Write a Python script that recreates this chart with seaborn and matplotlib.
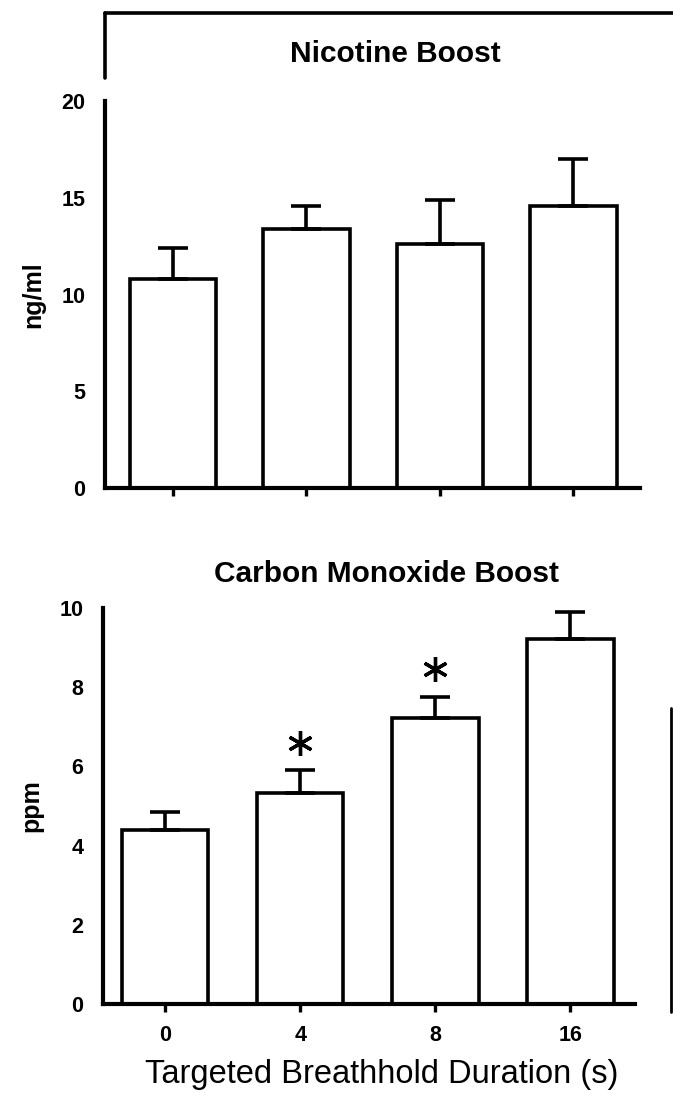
import matplotlib
matplotlib.use("Agg")
import matplotlib.pyplot as plt
import seaborn as sns
import pandas as pd
import numpy as np
from matplotlib.lines import Line2D

# ---- data ----
durations = ["0", "4", "8", "16"]
nicotine_mean = [10.8, 13.4, 12.6, 14.6]
nicotine_sem = [1.6, 1.2, 2.3, 2.4]
co_mean = [4.39, 5.33, 7.22, 9.22]
co_sem = [0.45, 0.57, 0.53, 0.68]
co_significant = [False, True, True, False]

sns.set_theme(style="white")
plt.rcParams['font.family'] = ['Liberation Sans', 'DejaVu Sans']
plt.rcParams['text.color'] = 'black'
plt.rcParams['axes.labelcolor'] = 'black'
plt.rcParams['xtick.color'] = 'black'
plt.rcParams['ytick.color'] = 'black'

fig = plt.figure(figsize=(6.73, 10.95), dpi=100)
ax1 = fig.add_axes([0.156, 0.5543, 0.795, 0.3534])
ax2 = fig.add_axes([0.153, 0.0831, 0.791, 0.3616])

LW = 2.6


def draw(ax, means, sems, ymax, step, ylabel, xlim, width, show_xlabels):
    df = pd.DataFrame({"dur": durations, "val": means})
    sns.barplot(data=df, x="dur", y="val", order=durations, color="white",
                edgecolor="black", linewidth=LW, width=width, errorbar=None,
                ax=ax, zorder=2)
    for p in ax.patches:
        p.set_facecolor("white")
    x = np.arange(len(durations))
    ax.errorbar(x, means, yerr=[np.zeros(len(means)), sems], fmt="none",
                ecolor="black", elinewidth=LW, capsize=11, capthick=LW, zorder=3)
    ax.set_ylim(0, ymax)
    ax.set_xlim(*xlim)
    ticks = np.arange(0, ymax + 0.01, step)
    ax.set_yticks(ticks)
    ax.set_yticklabels([f"{int(v)}" for v in ticks],
                       fontsize=15.5, fontweight="bold", color="black")
    for s in ["top", "right"]:
        ax.spines[s].set_visible(False)
    for s in ["left", "bottom"]:
        ax.spines[s].set_linewidth(3.0)
        ax.spines[s].set_color("black")
    ax.tick_params(axis="y", direction="inout", length=12, width=2.4,
                   color="black", pad=8)
    ax.tick_params(axis="x", direction="out", length=6, width=2.4,
                   color="black", pad=9, bottom=True)
    ax.set_xlabel("")
    ax.set_ylabel(ylabel, fontsize=18, fontweight="bold", labelpad=12,
                  color="black")
    ax.set_xticks(x)
    if show_xlabels:
        ax.set_xticklabels(durations, fontsize=15.5, fontweight="bold",
                           color="black")
    else:
        ax.set_xticklabels([])
    ax.set_facecolor("white")


draw(ax1, nicotine_mean, nicotine_sem, 20, 5, "ng/ml", (-0.51, 3.5), 0.65, False)
draw(ax2, co_mean, co_sem, 10, 2, "ppm", (-0.46, 3.48), 0.64, True)

# significance asterisks
for i, (m, s, sig) in enumerate(zip(co_mean, co_sem, co_significant)):
    if sig:
        ax2.plot(i, m + s + 0.7, marker=(6, 2, 0), markersize=18,
                 markeredgewidth=2.4, color="black", zorder=4)

# titles
fig.text(395 / 673, 1 - 54 / 1095, "Nicotine Boost", ha="center", va="center",
         fontsize=21.5, fontweight="bold", color="black")
fig.text(387 / 673, 1 - 574 / 1095, "Carbon Monoxide Boost", ha="center",
         va="center", fontsize=21.5, fontweight="bold", color="black")

# x-axis label
fig.text(382 / 673, 1 - 1075 / 1095, "Targeted Breathhold Duration (s)",
         ha="center", va="center", fontsize=23.5, color="black")

# scan frame lines
fig.add_artist(Line2D([105 / 673, 1.0], [1 - 13 / 1095, 1 - 13 / 1095],
                      transform=fig.transFigure, color="black", lw=2.6))
fig.add_artist(Line2D([105 / 673, 105 / 673], [1 - 13 / 1095, 1 - 78 / 1095],
                      transform=fig.transFigure, color="black", lw=2.6))
fig.add_artist(Line2D([671 / 673, 671 / 673], [1 - 708 / 1095, 1 - 1012 / 1095],
                      transform=fig.transFigure, color="black", lw=2.0))

fig.savefig("out.png", dpi=100, facecolor="white")
